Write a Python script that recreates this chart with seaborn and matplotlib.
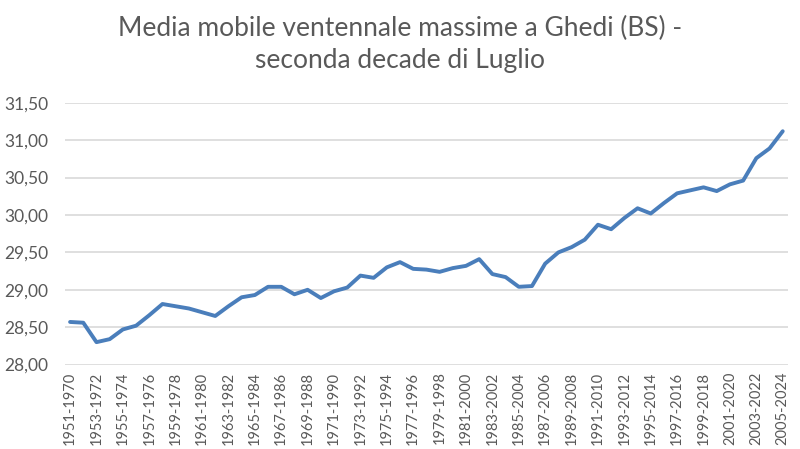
import matplotlib
matplotlib.use("Agg")
import matplotlib.pyplot as plt
import seaborn as sns
import pandas as pd
from matplotlib.ticker import FuncFormatter, FixedLocator

periods = [f"{y}-{y+19}" for y in range(1951, 2006)]
values = [
    28.57, 28.56, 28.30, 28.34, 28.47, 28.52, 28.66, 28.81, 28.78, 28.75,
    28.70, 28.65, 28.78, 28.90, 28.93, 29.04, 29.04, 28.94, 29.00, 28.89,
    28.98, 29.03, 29.19, 29.16, 29.30, 29.37, 29.28, 29.27, 29.24, 29.29,
    29.32, 29.41, 29.21, 29.17, 29.04, 29.05, 29.35, 29.50, 29.57, 29.67,
    29.87, 29.81, 29.96, 30.09, 30.02, 30.16, 30.29, 30.33, 30.37, 30.32,
    30.41, 30.46, 30.76, 30.89, 31.12,
]
y_ticks = [28.0, 28.5, 29.0, 29.5, 30.0, 30.5, 31.0, 31.5]
title = "Media mobile ventennale massime a Ghedi (BS) -\nseconda decade di Luglio"

df = pd.DataFrame({"pos": range(len(periods)), "period": periods, "value": values})

sns.set_theme(style="white")
plt.rcParams['font.family'] = ['Lato', 'DejaVu Sans']

fig = plt.figure(figsize=(8, 4.49), dpi=100)
ax = fig.add_axes([0.081, 0.188, 0.904, 0.583])

sns.lineplot(data=df, x="pos", y="value", ax=ax, color="#4A7EBB", linewidth=2.8)

ax.set_ylim(28.0, 31.5)
ax.set_xlim(-0.4, len(periods) - 1 + 0.4)
ax.yaxis.set_major_locator(FixedLocator(y_ticks))
ax.yaxis.set_major_formatter(FuncFormatter(lambda v, p: f"{v:.2f}".replace(".", ",")))
ax.set_xticks(df["pos"][::2])
ax.set_xticklabels(df["period"][::2], rotation=90, va="top", ha="center")
ax.grid(axis="y", color="#D9D9D9", linewidth=1.2)
ax.grid(axis="x", visible=False)
for s in ax.spines.values():
    s.set_visible(False)
ax.tick_params(axis="y", length=0, pad=12, labelsize=12.5, labelcolor="#595959")
ax.tick_params(axis="x", length=0, pad=5, labelsize=10.5, labelcolor="#595959")
ax.set_xlabel("")
ax.set_ylabel("")

fig.text(0.5, 0.965, title, ha="center", va="top", fontsize=19,
         color="#595959", linespacing=1.35)

fig.savefig("out.png", dpi=100)
